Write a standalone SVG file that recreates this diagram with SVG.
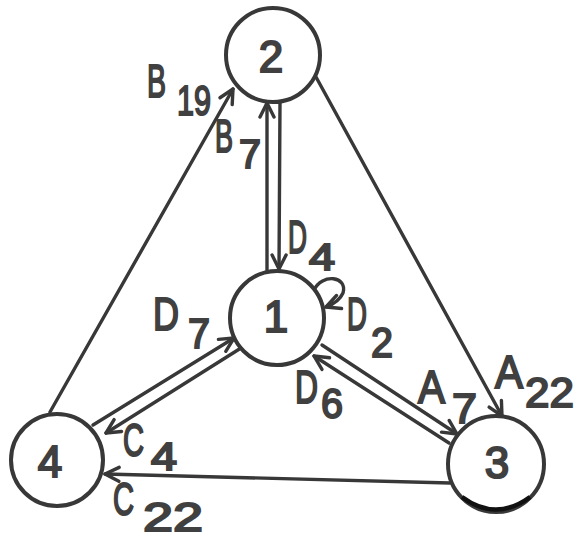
<svg xmlns="http://www.w3.org/2000/svg" width="575" height="539" viewBox="0 0 575 539">
<style>
.bg{fill:#ffffff}
.node{fill:#ffffff;stroke:#383838;stroke-width:4}
.edge{fill:none;stroke:#383838;stroke-width:3.4;stroke-linecap:round}
.num{font-family:"Liberation Sans","DejaVu Sans",sans-serif;font-size:44px;fill:#404040;stroke:#404040;stroke-width:2;text-anchor:middle}
.lbl{font-family:"Liberation Sans","DejaVu Sans",sans-serif;font-size:43px;fill:#404040;stroke:#404040;stroke-width:2}
.let{font-size:46px}
</style>
<defs>
<marker id="ah" viewBox="-17 -10 19 20" markerWidth="19" markerHeight="20" refX="0" refY="0" orient="auto" markerUnits="userSpaceOnUse">
<path d="M-14,-7 L0,0 L-14,7" fill="none" stroke="#383838" stroke-width="3.4" stroke-linecap="round" stroke-linejoin="round"/>
</marker>
</defs>
<rect class="bg" x="0" y="0" width="575" height="539"/>
<g id="connectors">
<line id="e4-2" class="edge" x1="50" y1="412" x2="233" y2="89" marker-end="url(#ah)"/>
<line id="e2-3" class="edge" x1="316" y1="77" x2="502" y2="416" marker-end="url(#ah)"/>
<line id="e3-4" class="edge" x1="450" y1="483" x2="105" y2="474" marker-end="url(#ah)"/>
<line id="e1-2" class="edge" x1="267" y1="272" x2="267" y2="103" marker-end="url(#ah)"/>
<line id="e2-1" class="edge" x1="280" y1="102" x2="279" y2="269" marker-end="url(#ah)"/>
<line id="e4-1" class="edge" x1="93" y1="425" x2="234" y2="338" marker-end="url(#ah)"/>
<line id="e1-4" class="edge" x1="241" y1="348" x2="106" y2="433" marker-end="url(#ah)"/>
<line id="e1-3" class="edge" x1="322" y1="345" x2="457" y2="434" marker-end="url(#ah)"/>
<line id="e3-1" class="edge" x1="449" y1="443" x2="314" y2="356" marker-end="url(#ah)"/>
<path id="e1-1" class="edge" d="M314,290 C322,273 348,276 343,293 Q339,302 326,307" marker-end="url(#ah)"/>
</g>
<g id="node2"><circle class="node" cx="273" cy="55" r="47"/><text class="num" x="271" y="72">2</text></g>
<g id="node1"><circle class="node" cx="277" cy="318" r="47"/><text class="num" x="276" y="332">1</text></g>
<g id="node3"><circle class="node" cx="496" cy="464" r="48"/><path d="M462,497 Q496,522 530,497" fill="none" stroke="#111" stroke-width="4.5"/><text class="num" x="497" y="478">3</text></g>
<g id="node4"><circle class="node" cx="57" cy="460" r="46"/><text class="num" x="50" y="477">4</text></g>
<g id="labels">
<text id="lB19" class="lbl"><tspan class="let" x="147" y="97" textLength="19" lengthAdjust="spacingAndGlyphs">B</tspan><tspan x="177" y="115" textLength="34" lengthAdjust="spacingAndGlyphs">19</tspan></text>
<text id="lB7" class="lbl"><tspan class="let" x="215" y="152" textLength="18" lengthAdjust="spacingAndGlyphs">B</tspan><tspan x="239" y="168" font-size="40" textLength="22" lengthAdjust="spacingAndGlyphs">7</tspan></text>
<text id="lD4" class="lbl"><tspan class="let" x="288" y="253" textLength="19" lengthAdjust="spacingAndGlyphs">D</tspan><tspan x="309" y="270" font-size="36" textLength="26" lengthAdjust="spacingAndGlyphs">4</tspan></text>
<text id="lD2" class="lbl"><tspan class="let" x="347" y="330" textLength="20" lengthAdjust="spacingAndGlyphs">D</tspan><tspan x="371" y="357" textLength="22" lengthAdjust="spacingAndGlyphs">2</tspan></text>
<text id="lD7" class="lbl"><tspan class="let" x="153" y="330" textLength="26" lengthAdjust="spacingAndGlyphs">D</tspan><tspan x="188" y="348" textLength="22" lengthAdjust="spacingAndGlyphs">7</tspan></text>
<text id="lD6" class="lbl"><tspan class="let" x="295" y="403" font-size="41" textLength="23" lengthAdjust="spacingAndGlyphs">D</tspan><tspan x="321" y="418" textLength="22" lengthAdjust="spacingAndGlyphs">6</tspan></text>
<text id="lA7" class="lbl"><tspan class="let" x="418" y="403" textLength="27" lengthAdjust="spacingAndGlyphs">A</tspan><tspan x="452" y="423" textLength="25" lengthAdjust="spacingAndGlyphs">7</tspan></text>
<text id="lA22" class="lbl"><tspan class="let" x="495" y="388" textLength="28" lengthAdjust="spacingAndGlyphs">A</tspan><tspan x="525" y="407" textLength="49" lengthAdjust="spacingAndGlyphs">22</tspan></text>
<text id="lC4" class="lbl"><tspan class="let" x="123" y="456" textLength="21" lengthAdjust="spacingAndGlyphs">C</tspan><tspan x="151" y="470" font-size="38" textLength="26" lengthAdjust="spacingAndGlyphs">4</tspan></text>
<text id="lC22" class="lbl"><tspan class="let" x="113" y="515" textLength="21" lengthAdjust="spacingAndGlyphs">C</tspan><tspan x="143" y="531" font-size="41" textLength="60" lengthAdjust="spacingAndGlyphs">22</tspan></text>
</g>
</svg>
